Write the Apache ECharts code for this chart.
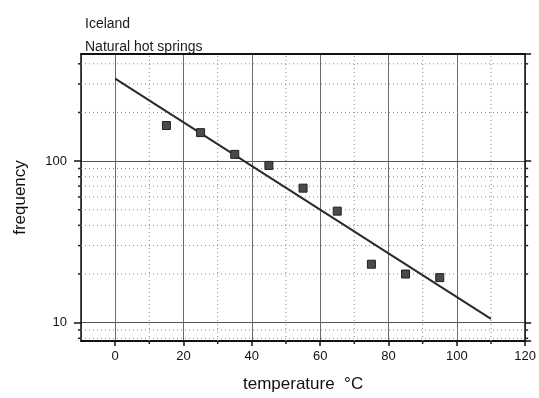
<!DOCTYPE html>
<html>
<head>
<meta charset="utf-8">
<script src="https://cdn.jsdelivr.net/npm/echarts@6/dist/echarts.min.js"></script>
<style>
  html, body { margin: 0; padding: 0; background: #fff; }
  #chart { width: 539px; height: 398px; }
</style>
</head>
<body>
<div id="chart"></div>
<script>
// 数据
var temps = [15, 25, 35, 45, 55, 65, 75, 85, 95];
var freqs = [166, 150, 110, 94, 68, 49, 23, 20, 19];
// fit line end points
var fitX = [0, 110];
var fitY = [324, 10.55];
// axis ranges / minor grid
var xRange = [-10, 120];
var yRange = [7.7, 460];
var minorX = [10, 30, 50, 70, 90, 110];
var minorY = [8, 9, 20, 30, 40, 50, 60, 70, 80, 90, 200, 300, 400];

var font = "Liberation Sans, Arial, sans-serif";
var myChart = echarts.init(document.getElementById("chart"));

// 次刻度 + 虚线网格 (y)
function renderMinorY(params, api) {
  var v = api.value(1);
  var p0 = api.coord([xRange[0], v]);
  var p1 = api.coord([xRange[1], v]);
  return {
    type: "group",
    children: [
      { type: "line", shape: { x1: p0[0], y1: p0[1], x2: p1[0], y2: p1[1] },
        style: { stroke: "#8a8a8a", lineWidth: 1, lineDash: [1, 3] } },
      { type: "line", shape: { x1: p0[0] - 3, y1: p0[1], x2: p0[0], y2: p0[1] },
        style: { stroke: "#222", lineWidth: 1.5 } },
      { type: "line", shape: { x1: p1[0], y1: p1[1], x2: p1[0] + 3, y2: p1[1] },
        style: { stroke: "#222", lineWidth: 1.5 } },
    ],
  };
}
// 次刻度 + 虚线网格 (x)
function renderMinorX(params, api) {
  var v = api.value(0);
  var p0 = api.coord([v, yRange[0]]);
  var p1 = api.coord([v, yRange[1]]);
  return {
    type: "group",
    children: [
      { type: "line", shape: { x1: p0[0], y1: p0[1], x2: p1[0], y2: p1[1] },
        style: { stroke: "#8a8a8a", lineWidth: 1, lineDash: [1, 3] } },
      { type: "line", shape: { x1: p0[0], y1: p0[1], x2: p0[0], y2: p0[1] + 3 },
        style: { stroke: "#222", lineWidth: 1.5 } },
    ],
  };
}

myChart.setOption({
  animation: false,
  textStyle: { fontFamily: font },
  title: [
    { text: "Iceland", left: 80, top: 12,
      textStyle: { fontSize: 14, fontWeight: "normal", color: "#1a1a1a", fontFamily: font } },
    { text: "Natural hot springs", left: 80, top: 35,
      textStyle: { fontSize: 14, fontWeight: "normal", color: "#1a1a1a", fontFamily: font } },
  ],
  grid: { left: 81, right: 10, top: 54, bottom: 55 },
  xAxis: [
    {
      type: "value",
      min: xRange[0],
      max: xRange[1],
      splitNumber: 6,
      name: "temperature  °C",
      nameLocation: "middle",
      nameGap: 35,
      nameTextStyle: { fontSize: 17, color: "#111" },
      axisLine: { show: true, onZero: false, lineStyle: { color: "#111", width: 2 } },
      axisTick: { show: true, inside: false, length: 5, lineStyle: { color: "#111", width: 1.5 } },
      axisLabel: { fontSize: 13, color: "#111", margin: 9, showMinLabel: false },
      splitLine: { show: true, lineStyle: { color: "#6a6a6a", width: 1 } },
    },
    {
      type: "value",
      position: "top",
      min: xRange[0],
      max: xRange[1],
      axisLine: { show: true, onZero: false, lineStyle: { color: "#111", width: 2 } },
      axisTick: { show: false },
      axisLabel: { show: false },
      splitLine: { show: false },
    },
  ],
  yAxis: [
    {
      type: "log",
      position: "left",
      min: yRange[0],
      max: yRange[1],
      name: "frequency",
      nameLocation: "middle",
      nameGap: 52,
      nameTextStyle: { fontSize: 17, color: "#111" },
      axisLine: { show: true, onZero: false, lineStyle: { color: "#111", width: 1.5 } },
      axisTick: { show: true, inside: false, length: 7, lineStyle: { color: "#111", width: 1.5 } },
      axisLabel: { fontSize: 13, color: "#111", margin: 14, showMinLabel: false, showMaxLabel: false },
      splitLine: { show: true, lineStyle: { color: "#555", width: 1.2 } },
    },
    {
      type: "log",
      position: "right",
      min: yRange[0],
      max: yRange[1],
      axisLine: { show: true, onZero: false, lineStyle: { color: "#111", width: 1.5 } },
      axisTick: { show: true, inside: false, length: 6, lineStyle: { color: "#111", width: 1.5 } },
      axisLabel: { show: false },
      splitLine: { show: false },
    },
  ],
  series: [
    {
      name: "minorY",
      type: "custom",
      renderItem: renderMinorY,
      silent: true,
      z: 1,
      data: minorY.map(function (v) { return [xRange[0], v]; }),
    },
    {
      name: "minorX",
      type: "custom",
      renderItem: renderMinorX,
      silent: true,
      z: 1,
      data: minorX.map(function (v) { return [v, yRange[0]]; }),
    },
    {
      name: "fit",
      type: "line",
      showSymbol: false,
      symbol: "none",
      z: 3,
      lineStyle: { color: "#2a2a2a", width: 2 },
      data: fitX.map(function (x, i) { return [x, fitY[i]]; }),
    },
    {
      name: "springs",
      type: "scatter",
      symbol: "rect",
      symbolSize: 8,
      z: 4,
      itemStyle: { color: "#4a4a4a", borderColor: "#222", borderWidth: 1, opacity: 1 },
      data: temps.map(function (t, i) { return [t, freqs[i]]; }),
    },
  ],
});
</script>
</body>
</html>
